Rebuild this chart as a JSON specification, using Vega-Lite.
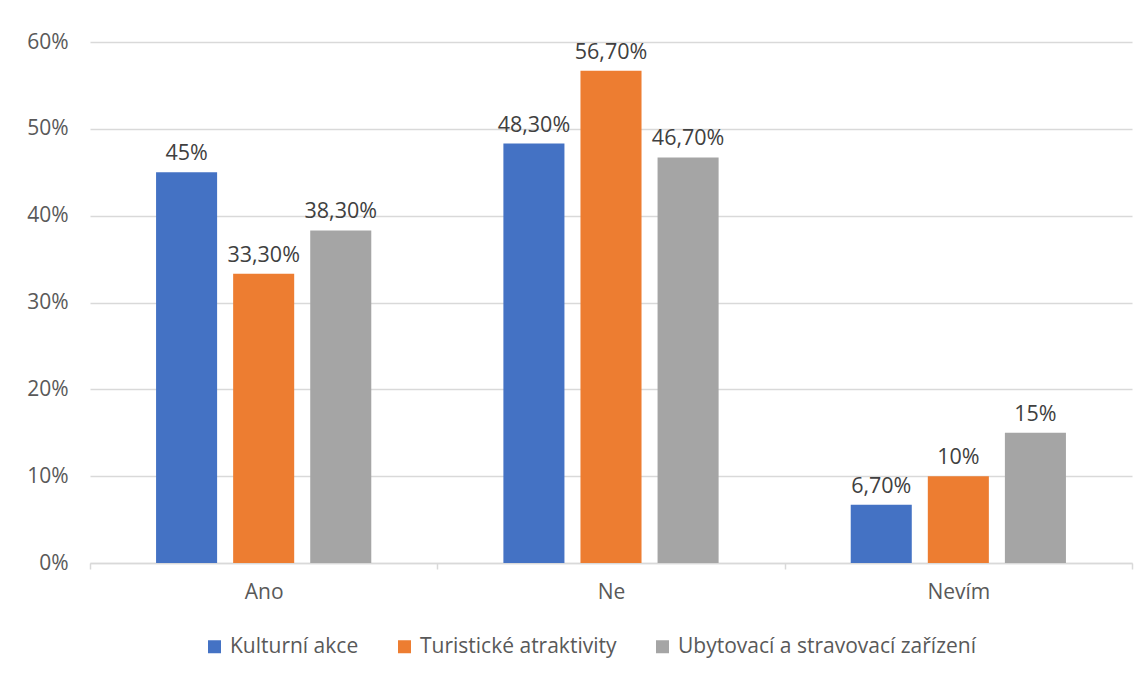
{
  "$schema": "https://vega.github.io/schema/vega-lite/v6.json",
  "width": 1042,
  "height": 521,
  "autosize": {"type": "none"},
  "padding": {"left": 90, "top": 42, "right": 16, "bottom": 115},
  "background": "white",
  "config": {
    "font": "Open Sans",
    "view": {"stroke": null}
  },
  "data": {
    "values": [
      {"odpoved": "Ano", "oblast": "Kulturní akce", "hodnota": 45, "popisek": "45%"},
      {"odpoved": "Ano", "oblast": "Turistické atraktivity", "hodnota": 33.3, "popisek": "33,30%"},
      {"odpoved": "Ano", "oblast": "Ubytovací a stravovací zařízení", "hodnota": 38.3, "popisek": "38,30%"},
      {"odpoved": "Ne", "oblast": "Kulturní akce", "hodnota": 48.3, "popisek": "48,30%"},
      {"odpoved": "Ne", "oblast": "Turistické atraktivity", "hodnota": 56.7, "popisek": "56,70%"},
      {"odpoved": "Ne", "oblast": "Ubytovací a stravovací zařízení", "hodnota": 46.7, "popisek": "46,70%"},
      {"odpoved": "Nevím", "oblast": "Kulturní akce", "hodnota": 6.7, "popisek": "6,70%"},
      {"odpoved": "Nevím", "oblast": "Turistické atraktivity", "hodnota": 10, "popisek": "10%"},
      {"odpoved": "Nevím", "oblast": "Ubytovací a stravovací zařízení", "hodnota": 15, "popisek": "15%"}
    ]
  },
  "encoding": {
    "x": {
      "field": "odpoved",
      "type": "nominal",
      "sort": ["Ano", "Ne", "Nevím"],
      "scale": {"paddingInner": 0, "paddingOuter": 0},
      "axis": {
        "title": null,
        "labelAngle": 0,
        "labelFont": "Open Sans",
        "labelFontSize": 21,
        "labelColor": "#595959",
        "labelPadding": 12,
        "domainColor": "#d9d9d9",
        "domainWidth": 1.5,
        "tickColor": "#d9d9d9",
        "tickWidth": 1.5,
        "tickSize": 6,
        "tickBand": "extent",
        "grid": false
      }
    },
    "xOffset": {
      "field": "oblast",
      "type": "nominal",
      "scale": {
        "domain": ["Kulturní akce", "Turistické atraktivity", "Ubytovací a stravovací zařízení"],
        "paddingInner": 0.208,
        "paddingOuter": 0.857
      }
    },
    "y": {
      "field": "hodnota",
      "type": "quantitative",
      "scale": {"domain": [0, 60], "nice": false},
      "axis": {
        "title": null,
        "values": [0, 10, 20, 30, 40, 50, 60],
        "labelExpr": "datum.value + '%'",
        "labelFont": "Open Sans",
        "labelFontSize": 21,
        "labelColor": "#595959",
        "labelPadding": 22,
        "domain": false,
        "ticks": false,
        "tickSize": 0,
        "grid": true,
        "gridColor": "#d9d9d9",
        "gridWidth": 1.5
      }
    }
  },
  "layer": [
    {
      "mark": {"type": "bar"},
      "encoding": {
        "color": {
          "field": "oblast",
          "type": "nominal",
          "scale": {
            "domain": ["Kulturní akce", "Turistické atraktivity", "Ubytovací a stravovací zařízení"],
            "range": ["#4472C4", "#ED7D31", "#A5A5A5"]
          },
          "legend": {
            "title": null,
            "orient": "none",
            "direction": "horizontal",
            "legendX": 114,
            "legendY": 594,
            "symbolType": "square",
            "symbolSize": 169,
            "symbolStrokeWidth": 0,
            "labelFont": "Open Sans",
            "labelFontSize": 21,
            "labelColor": "#595959",
            "labelOffset": 5,
            "labelLimit": 500,
            "columnPadding": 35
          }
        }
      }
    },
    {
      "mark": {"type": "text", "baseline": "bottom", "dy": -7, "fontSize": 21.5, "font": "Open Sans", "color": "#404040"},
      "encoding": {
        "text": {"field": "popisek"}
      }
    }
  ]
}
